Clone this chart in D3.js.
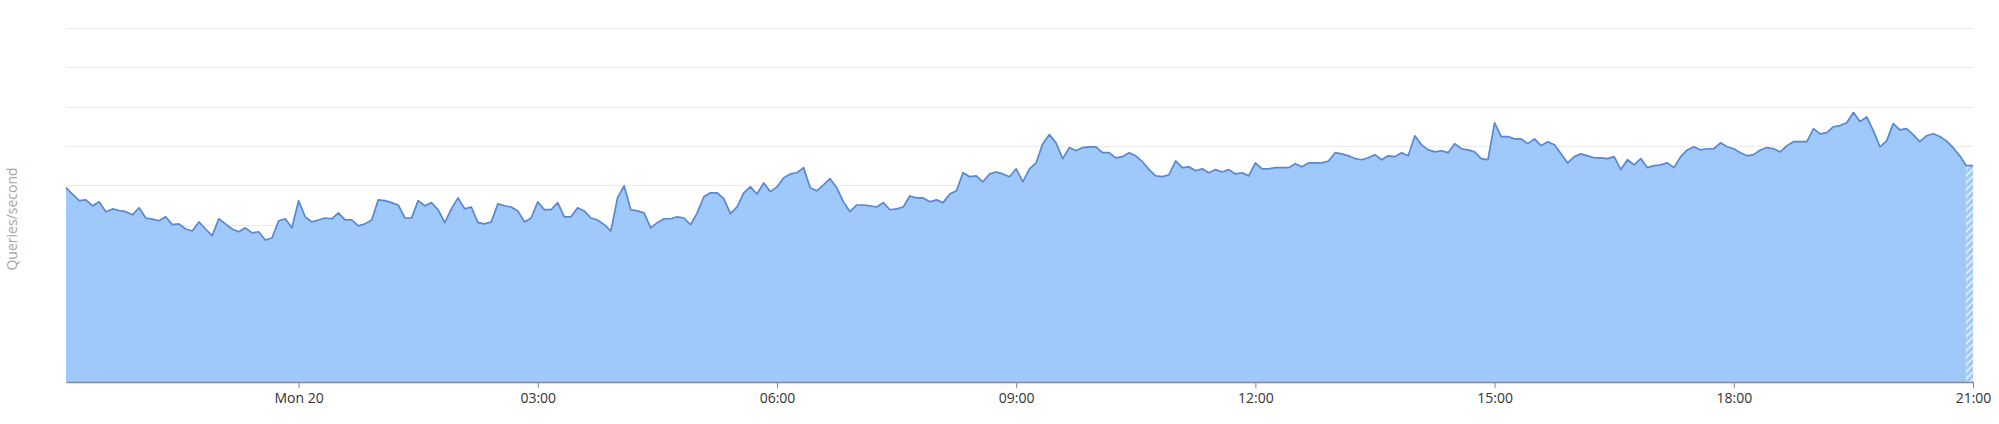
<!DOCTYPE html>
<html>
<head>
<meta charset="utf-8">
<script src="https://cdn.jsdelivr.net/npm/d3@7"></script>
<style>
  body { margin: 0; background: #fff; }
  text { font-family: "Open Sans", "Noto Sans", sans-serif; }
</style>
</head>
<body>
<script>
// 5-minute samples, first one Sun 19 Jan 21:05, last one Mon 20 Jan 21:00
var startTime = new Date(2020, 0, 19, 21, 5);
var stepMinutes = 5;

// queries per second
var qps = [
  494, 477, 461, 463, 448, 458, 433, 440, 436, 433,
  425, 443, 417, 414, 410, 420, 400, 402, 389, 384,
  407, 389, 372, 415, 402, 389, 382, 392, 379, 382,
  361, 366, 410, 415, 392, 461, 420, 407, 412, 417,
  415, 430, 412, 412, 397, 402, 412, 463, 461, 456,
  450, 417, 417, 461, 448, 456, 438, 405, 440, 468,
  440, 445, 405, 402, 407, 453, 448, 445, 435, 407,
  417, 458, 438, 438, 456, 420, 420, 443, 435, 417,
  412, 400, 384, 468, 499, 438, 435, 430, 392, 405,
  415, 415, 420, 417, 400, 430, 471, 481, 481, 466,
  428, 445, 481, 496, 478, 506, 484, 496, 519, 529,
  532, 545, 494, 486, 501, 517, 494, 458, 433, 450,
  450, 448, 445, 456, 438, 440, 445, 473, 468, 468,
  458, 463, 456, 478, 486, 532, 522, 524, 509, 529,
  534, 529, 522, 542, 509, 542, 557, 606, 629, 608,
  568, 596, 588, 596, 598, 598, 583, 583, 570, 573,
  583, 575, 560, 540, 524, 522, 527, 562, 545, 547,
  537, 542, 532, 540, 534, 540, 529, 532, 524, 557,
  542, 542, 545, 545, 545, 555, 547, 557, 557, 557,
  562, 583, 580, 575, 568, 565, 570, 578, 565, 575,
  573, 583, 575, 626, 603, 590, 585, 588, 583, 606,
  593, 590, 585, 568, 565, 659, 624, 624, 618, 618,
  606, 618, 601, 611, 603, 580, 557, 573, 580, 575,
  570, 570, 568, 573, 540, 565, 552, 568, 545, 550,
  552, 557, 545, 573, 590, 598, 590, 593, 593, 608,
  598, 593, 583, 575, 578, 590, 596, 593, 585, 601,
  611, 611, 611, 644, 631, 634, 649, 652, 659, 685,
  662, 674, 639, 598, 613, 657, 641, 644, 629, 611,
  626, 631, 624, 613, 596, 575, 550, 550
];

var tickTimes = [
  new Date(2020, 0, 20, 0), new Date(2020, 0, 20, 3), new Date(2020, 0, 20, 6),
  new Date(2020, 0, 20, 9), new Date(2020, 0, 20, 12), new Date(2020, 0, 20, 15),
  new Date(2020, 0, 20, 18), new Date(2020, 0, 20, 21)
];
var tickLabels = ["Mon 20", "03:00", "06:00", "09:00", "12:00", "15:00", "18:00", "21:00"];

var yLabel = "Queries/second";

window.onload = function(){

    var w = 1999, h = 424;
    var margin = {top: 28, right: 26, bottom: 42, left: 66};

    var data = qps.map(function(v, i){
        return {time: d3.timeMinute.offset(startTime, i * stepMinutes), value: v};
    });

    var svg = d3.select("body")
        .append("svg")
        .attr("width", w)
        .attr("height", h)
        .style("display", "block");

    var x = d3.scaleTime()
        .domain(d3.extent(data, function(d){ return d.time; }))
        .range([margin.left, w - margin.right]);

    var y = d3.scaleLinear()
        .domain([0, 900])
        .range([h - margin.bottom, margin.top]);

    // hatch for the last (still incomplete) bucket
    var defs = svg.append("defs");
    var pat = defs.append("pattern")
        .attr("id", "hatch")
        .attr("patternUnits", "userSpaceOnUse")
        .attr("width", 7)
        .attr("height", 7);
    pat.append("rect")
        .attr("width", 7).attr("height", 7)
        .attr("fill", "#9fc8fb");
    pat.append("path")
        .attr("d", "M0,7 L7,0 M-1,1 L1,-1 M6,8 L8,6")
        .attr("stroke", "#ffffff")
        .attr("stroke-opacity", 0.7)
        .attr("stroke-width", 1.6);

    // horizontal grid lines
    svg.append("g")
        .attr("class", "grid")
        .selectAll("line")
        .data(y.ticks(9).filter(function(t){ return t > 0; }))
        .enter()
        .append("line")
        .attr("x1", margin.left)
        .attr("x2", w - margin.right)
        .attr("y1", function(d){ return Math.round(y(d)) + 0.5; })
        .attr("y2", function(d){ return Math.round(y(d)) + 0.5; })
        .attr("stroke", "#ebebeb")
        .attr("stroke-width", 1);

    var area = d3.area()
        .x(function(d){ return x(d.time); })
        .y0(y(0))
        .y1(function(d){ return y(d.value); });

    var line = d3.line()
        .x(function(d){ return x(d.time); })
        .y(function(d){ return y(d.value); });

    var full = data.slice(0, data.length - 1);
    var last = data.slice(data.length - 2);

    svg.append("path")
        .datum(full)
        .attr("d", area)
        .attr("fill", "#9fc8fb");

    svg.append("path")
        .datum(last)
        .attr("d", area)
        .attr("fill", "url(#hatch)");

    svg.append("path")
        .datum(data)
        .attr("d", line)
        .attr("fill", "none")
        .attr("stroke", "#5987d0")
        .attr("stroke-width", 1.7)
        .attr("stroke-linejoin", "round");

    // time axis
    var xAxis = d3.axisBottom(x)
        .tickValues(tickTimes)
        .tickFormat(function(d, i){ return tickLabels[i]; })
        .tickSizeInner(6)
        .tickSizeOuter(0)
        .tickPadding(5);

    var axis = svg.append("g")
        .attr("class", "axis")
        .attr("transform", "translate(0," + (h - margin.bottom) + ")")
        .call(xAxis);
    axis.select(".domain").attr("stroke", "#7f8a94").attr("stroke-width", 1.5);
    axis.selectAll(".tick line").attr("stroke", "#7f8a94");
    axis.selectAll(".tick text")
        .attr("fill", "#333")
        .style("font-size", "14px")
        .style("font-family", "'Open Sans', sans-serif");

    // y axis title
    svg.append("text")
        .attr("transform", "translate(17," + ((margin.top + h - margin.bottom) / 2 + 14) + ") rotate(-90)")
        .attr("text-anchor", "middle")
        .attr("fill", "#a6a6a6")
        .style("font-size", "14px")
        .text(yLabel);
};
</script>
</body>
</html>
